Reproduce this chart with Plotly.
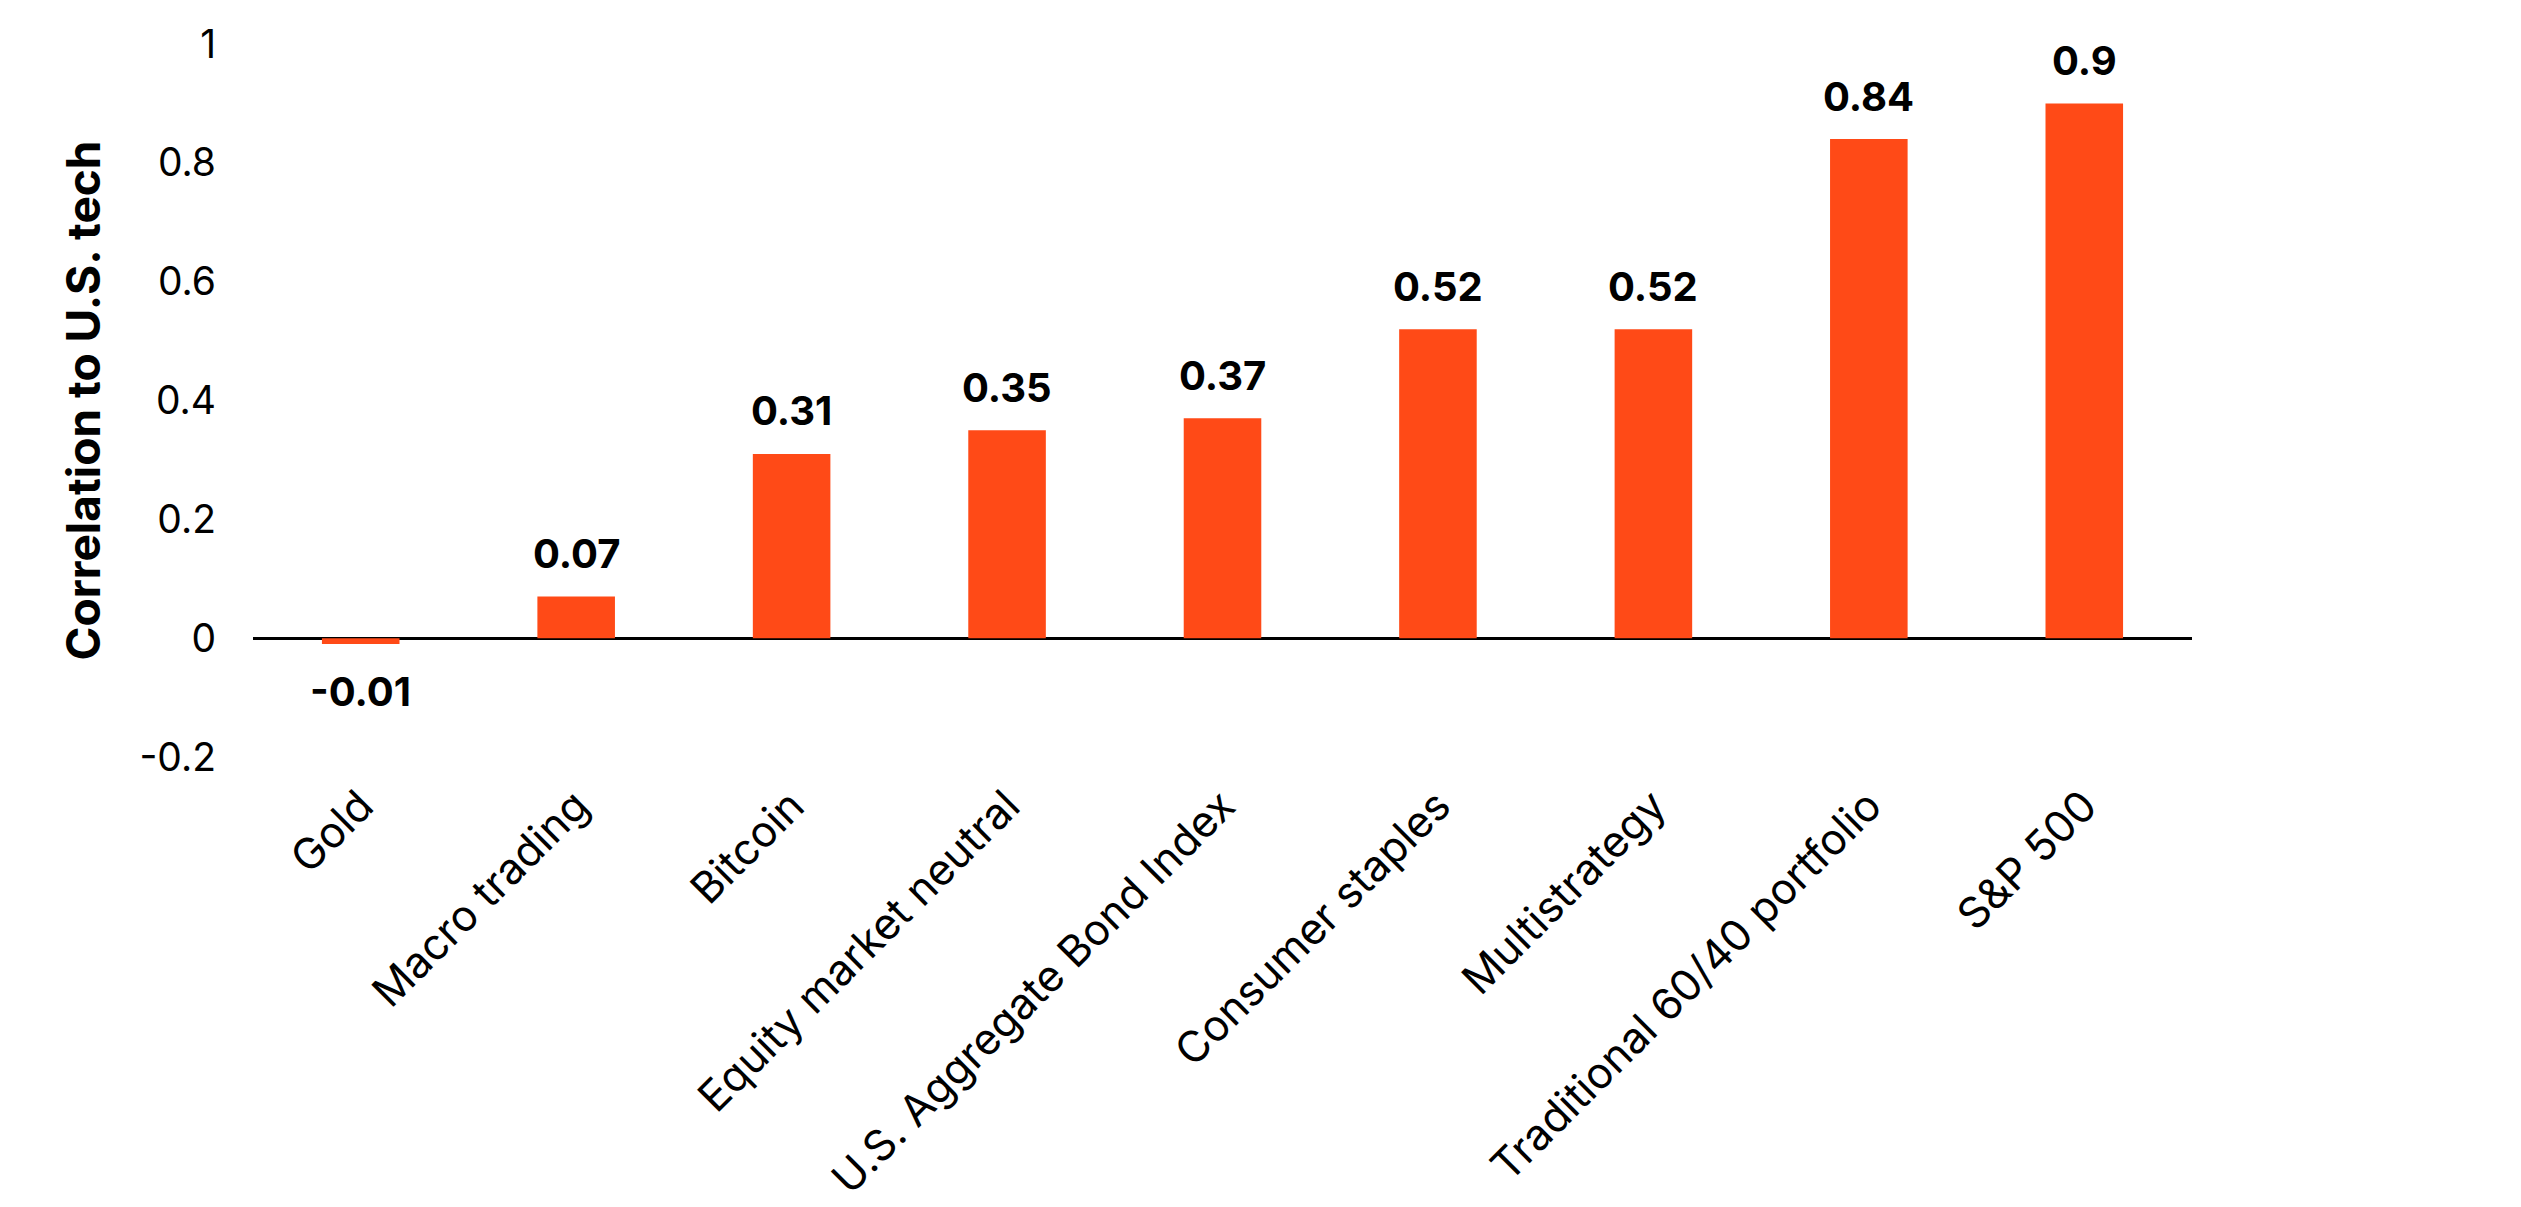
import plotly.graph_objects as go

categories = ["Gold", "Macro trading", "Bitcoin", "Equity market neutral",
              "U.S. Aggregate Bond Index", "Consumer staples", "Multistrategy",
              "Traditional 60/40 portfolio", "S&P 500"]
correlations = [-0.01, 0.07, 0.31, 0.35, 0.37, 0.52, 0.52, 0.84, 0.9]
value_labels = ["-0.01", "0.07", "0.31", "0.35", "0.37", "0.52", "0.52", "0.84", "0.9"]
y_ticks = [-0.2, 0, 0.2, 0.4, 0.6, 0.8, 1]
y_tick_labels = ["-0.2", "0", "0.2", "0.4", "0.6", "0.8", "1"]

FONT = "Inter"
BAR_COLOR = "#FF4A17"

fig = go.Figure()
fig.add_trace(go.Bar(
    x=categories,
    y=correlations,
    marker=dict(color=BAR_COLOR, line=dict(width=0)),
    width=0.36,
    hoverinfo="x+y",
))

# value labels above / below the bars
for cat, val, lab in zip(categories, correlations, value_labels):
    fig.add_annotation(
        x=cat, y=val, text="<b>" + lab + "</b>",
        showarrow=False, yanchor="middle",
        yshift=43 if val >= 0 else -47,
        font=dict(family=FONT, size=40, color="#000000"),
    )

fig.update_layout(
    width=2521, height=1207,
    margin=dict(l=245, r=337, t=25, b=436),
    paper_bgcolor="white", plot_bgcolor="white",
    showlegend=False,
    font=dict(family=FONT, size=39, color="#000000"),
)
fig.update_xaxes(
    range=[-0.5, 8.5],
    tickangle=-45,
    showgrid=False, showline=False, ticks="",
    ticklabelstandoff=14,
    tickfont=dict(family=FONT, size=43, color="#000000"),
)
fig.update_yaxes(
    range=[-0.2, 1],
    tickvals=y_ticks, ticktext=y_tick_labels,
    showgrid=False, showline=False, ticks="",
    zeroline=True, zerolinecolor="#000000", zerolinewidth=3,
    ticklabelstandoff=36,
    tickfont=dict(family=FONT, size=39, color="#000000"),
    title=dict(text="<b>Correlation to U.S. tech</b>", standoff=24,
               font=dict(family=FONT, size=46, color="#000000")),
)

fig.write_html("out.html")
